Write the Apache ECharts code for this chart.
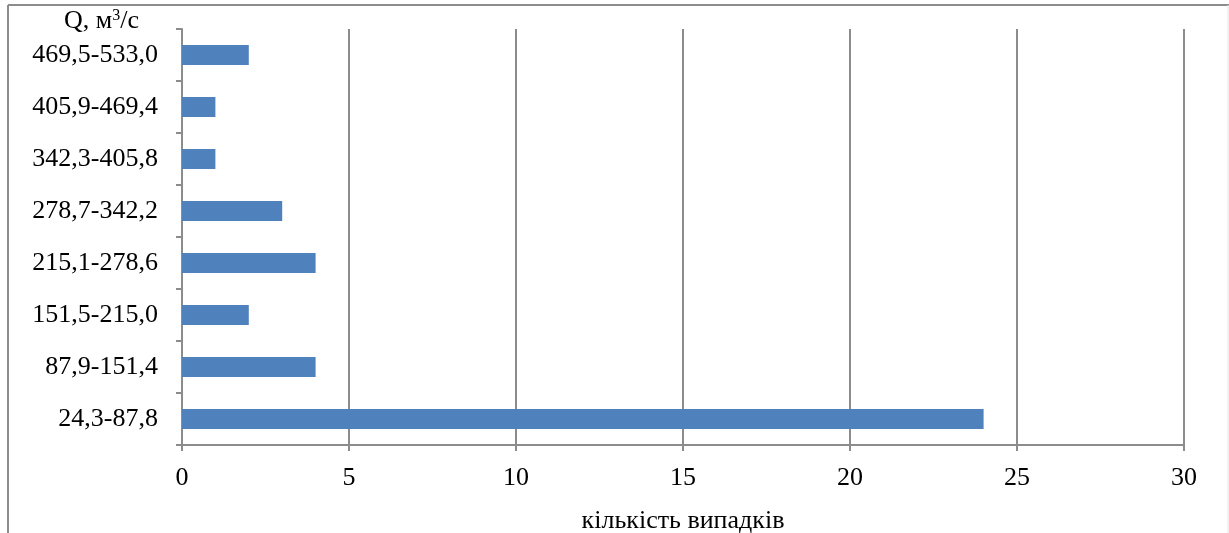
<!DOCTYPE html>
<html>
<head>
<meta charset="utf-8">
<script src="https://cdn.jsdelivr.net/npm/echarts@6/dist/echarts.min.js"></script>
<style>
  html, body { margin: 0; padding: 0; background: #fff; }
  #chart { width: 1229px; height: 533px; }
</style>
</head>
<body>
<div id="chart"></div>
<script>
// Flow-rate intervals (bottom to top) and number of cases in each
const categories = ['24,3-87,8', '87,9-151,4', '151,5-215,0', '215,1-278,6',
                    '278,7-342,2', '342,3-405,8', '405,9-469,4', '469,5-533,0'];
const counts = [24, 4, 2, 4, 3, 1, 1, 2];
const xTicks = { min: 0, max: 30, interval: 5 };

const font = 'Liberation Serif, Times New Roman, serif';
const axisGray = '#8c8c8c';
const fs = 26;

const chart = echarts.init(document.getElementById('chart'), null, { renderer: 'canvas' });
chart.setOption({
  animation: false,
  backgroundColor: '#fff',
  textStyle: { fontFamily: font },
  grid: { left: 182, right: 45, top: 29, bottom: 88, containLabel: false, outerBoundsMode: 'none' },
  graphic: [
    { type: 'line', shape: { x1: 8, y1: 5, x2: 1229, y2: 5 }, style: { stroke: axisGray, lineWidth: 2 } },
    { type: 'line', shape: { x1: 8, y1: 5, x2: 8, y2: 533 }, style: { stroke: axisGray, lineWidth: 2 } },
    { type: 'line', shape: { x1: 1228, y1: 5, x2: 1228, y2: 533 }, style: { stroke: '#e4e4e4', lineWidth: 1 } },
    {
      type: 'text', left: 64, top: 8,
      style: {
        text: '{a|Q, м}{s|3}{a|/с}',
        rich: {
          a: { fontFamily: font, fontSize: fs, fill: '#000' },
          s: { fontFamily: font, fontSize: 16, fill: '#000', verticalAlign: 'top', padding: [0, 0, 10, 0] }
        }
      }
    }
  ],
  xAxis: {
    type: 'value',
    min: xTicks.min, max: xTicks.max, interval: xTicks.interval,
    name: 'кількість випадків',
    nameLocation: 'middle',
    nameGap: 63,
    nameTextStyle: { fontFamily: font, fontSize: fs, color: '#000' },
    axisLine: { show: true, lineStyle: { color: axisGray, width: 2 } },
    axisTick: { show: true, length: 6, lineStyle: { color: axisGray, width: 2 } },
    axisLabel: { fontFamily: font, fontSize: fs, color: '#000', margin: 20 },
    splitLine: { show: true, lineStyle: { color: axisGray, width: 2 } }
  },
  yAxis: {
    type: 'category',
    data: categories,
    axisLine: { show: true, lineStyle: { color: axisGray, width: 2 } },
    axisTick: { show: true, length: 6, alignWithLabel: false, lineStyle: { color: axisGray, width: 2 } },
    axisLabel: { fontFamily: font, fontSize: fs, color: '#000', margin: 24 },
    splitLine: { show: false }
  },
  series: [{
    type: 'bar',
    data: counts,
    barWidth: 20,
    itemStyle: { color: '#4f81bd' }
  }]
});
</script>
</body>
</html>
